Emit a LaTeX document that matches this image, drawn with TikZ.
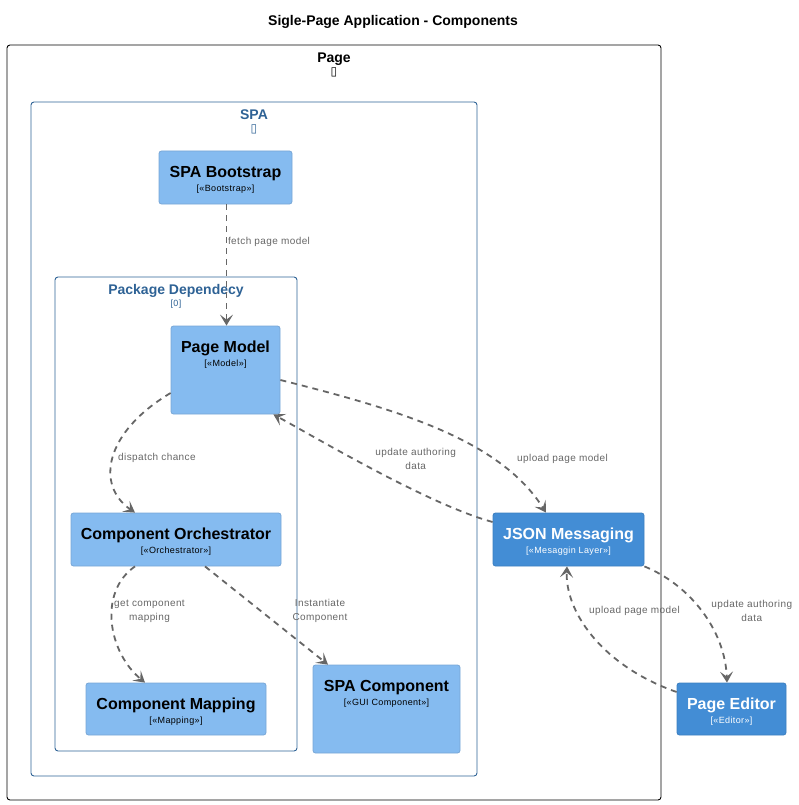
\documentclass[tikz,border=0pt]{standalone}
\usepackage{fontspec}
\setmainfont{Liberation Sans}
\newfontfamily\glyphfont{DejaVu Sans}
\newfontfamily\smallfont[LetterSpace=4]{Liberation Sans}
\usetikzlibrary{arrows.meta,positioning}

\definecolor{compfill}{HTML}{85BBF0}
\definecolor{compline}{HTML}{78A6D6}
\definecolor{extfill}{HTML}{438DD5}
\definecolor{extline}{HTML}{3C7FC0}
\definecolor{bndblue}{HTML}{2E6295}
\definecolor{relgray}{HTML}{666666}

\tikzset{
  comp/.style={draw=compline, fill=compfill, rounded corners=2.5pt, line width=0.8pt, inner sep=0pt},
  ext/.style={comp, draw=extline, fill=extfill},
  ctitle/.style={anchor=base, inner sep=0pt, font=\fontsize{16}{18}\selectfont\bfseries},
  cstereo/.style={anchor=base, inner sep=0pt, font=\smallfont\fontsize{9}{10}\selectfont},
  bnd/.style={draw=bndblue, rounded corners=3pt, line width=0.9pt, inner sep=0pt},
  btitle/.style={anchor=base, inner sep=0pt, text=bndblue, font=\fontsize{14}{16}\selectfont\bfseries},
  bglyph/.style={inner sep=0pt, text=bndblue, font=\glyphfont\fontsize{12}{14}\selectfont},
  dep/.style={color=relgray, line width=1.8pt, dash pattern=on 6pt off 5pt,
    -{Stealth[length=11pt,width=13pt,inset=5pt]}},
  lbl/.style={text=relgray, inner sep=0pt, align=center, font=\smallfont\fontsize{10}{14}\selectfont},
}

\begin{document}
\begin{tikzpicture}[x=1pt,y=-1pt]
  \path[use as bounding box] (0,0) rectangle (799,805);
  \node[anchor=base, font=\fontsize{14}{16}\selectfont\bfseries] (ttl) at (393,26) {Sigle-Page Application - Components};

  % boundaries
  \node[bnd, draw=black, minimum width=654pt, minimum height=755pt] (page) at (334,422.5) {};
  \node[btitle, text=black] (page-t) at ([yshift=-18pt]page.north) {Page};
  \node[bglyph, text=black] (page-g) at ([yshift=-28pt]page.north) {▯};

  \node[bnd, minimum width=446pt, minimum height=674pt] (spa) at (254,439) {};
  \node[btitle] (spa-t) at ([yshift=-18pt]spa.north) {SPA};
  \node[bglyph] (spa-g) at ([yshift=-28pt]spa.north) {▯};

  \node[bnd, minimum width=242pt, minimum height=474pt] (pkg) at (176,514) {};
  \node[btitle] (pkg-t) at ([yshift=-18pt]pkg.north) {Package Dependecy};
  \node[cstereo, text=bndblue] (pkg-s) at ([yshift=-30pt]pkg.north) {[0]};

  % components
  \node[comp, minimum width=133pt, minimum height=53pt] (boot) at (225.5,177.5) {};
  \node[ctitle] (boot-t) at ([yshift=-27pt]boot.north) {SPA Bootstrap};
  \node[cstereo] (boot-s) at ([yshift=-41pt]boot.north) {[«Bootstrap»]};

  \node[comp, minimum width=109pt, minimum height=88pt] (pm) at (225.5,370) {};
  \node[ctitle] (pm-t) at ([yshift=-27pt]pm.north) {Page Model};
  \node[cstereo] (pm-s) at ([yshift=-41pt]pm.north) {[«Model»]};

  \node[comp, minimum width=210pt, minimum height=53pt] (orch) at (176,539.5) {};
  \node[ctitle] (orch-t) at ([yshift=-27pt]orch.north) {Component Orchestrator};
  \node[cstereo] (orch-s) at ([yshift=-41pt]orch.north) {[«Orchestrator»]};

  \node[comp, minimum width=180pt, minimum height=52pt] (map) at (176,709) {};
  \node[ctitle] (map-t) at ([yshift=-27pt]map.north) {Component Mapping};
  \node[cstereo] (map-s) at ([yshift=-41pt]map.north) {[«Mapping»]};

  \node[comp, minimum width=147pt, minimum height=88pt] (spac) at (386.5,709) {};
  \node[ctitle] (spac-t) at ([yshift=-27pt]spac.north) {SPA Component};
  \node[cstereo] (spac-s) at ([yshift=-41pt]spac.north) {[«GUI Component»]};

  \node[ext, minimum width=151pt, minimum height=53pt] (json) at (568.5,539.5) {};
  \node[ctitle, text=white] (json-t) at ([yshift=-27pt]json.north) {JSON Messaging};
  \node[cstereo, text=white] (json-s) at ([yshift=-41pt]json.north) {[«Mesaggin Layer»]};

  \node[ext, minimum width=109pt, minimum height=52pt] (ed) at (731.5,709) {};
  \node[ctitle, text=white] (ed-t) at ([yshift=-27pt]ed.north) {Page Editor};
  \node[cstereo, text=white] (ed-s) at ([yshift=-41pt]ed.north) {[«Editor»]};

  % relations
  \path[dep]
    ([xshift=1pt]boot.south) edge node[lbl, pos=.31, xshift=42.5pt] {fetch page model} ([xshift=1pt]pm.north)
    ([yshift=-23pt]pm.west) edge[controls={(105,432) and (95,485)}]
      node[lbl, pos=.5, xshift=43.75pt, yshift=-1pt] {dispatch chance} ([xshift=-41pt]orch.north)
    ([yshift=-10pt]pm.east) edge[controls={(400,410) and (500,440)}]
      node[lbl, pos=.5, xshift=121.75pt, yshift=-28.6pt] {upload page model} ([xshift=-22.5pt]json.north)
    ([yshift=17.5pt]json.west) edge[controls={(430,505) and (320,440)}]
      node[lbl, pos=.5, xshift=38.7pt, yshift=12.4pt] {update authoring\\data} ([xshift=-7pt]pm.south east)
    ([xshift=-41pt]orch.south) edge[controls={(98,592) and (108,652)}]
      node[lbl, pos=.5, xshift=37.25pt, yshift=11.6pt] {get component\\mapping} ([xshift=-31pt]map.north)
    ([xshift=29pt]orch.south) edge
      node[lbl, pos=.5, xshift=53.5pt, yshift=4.5pt] {Instantiate\\Component} ([xshift=-58.5pt]spac.north)
    (json.south east) edge[controls={(690,585) and (725,630)}]
      node[lbl, pos=.5, xshift=49.7pt, yshift=.75pt] {update authoring\\data} ([xshift=-4.5pt]ed.north)
    ([yshift=17pt]ed.west) edge[controls={(600,665) and (565,610)}]
      node[lbl, pos=.5, xshift=42.1pt, yshift=24.4pt] {upload page model} ([xshift=-1.5pt]json.south);
\end{tikzpicture}
\end{document}
